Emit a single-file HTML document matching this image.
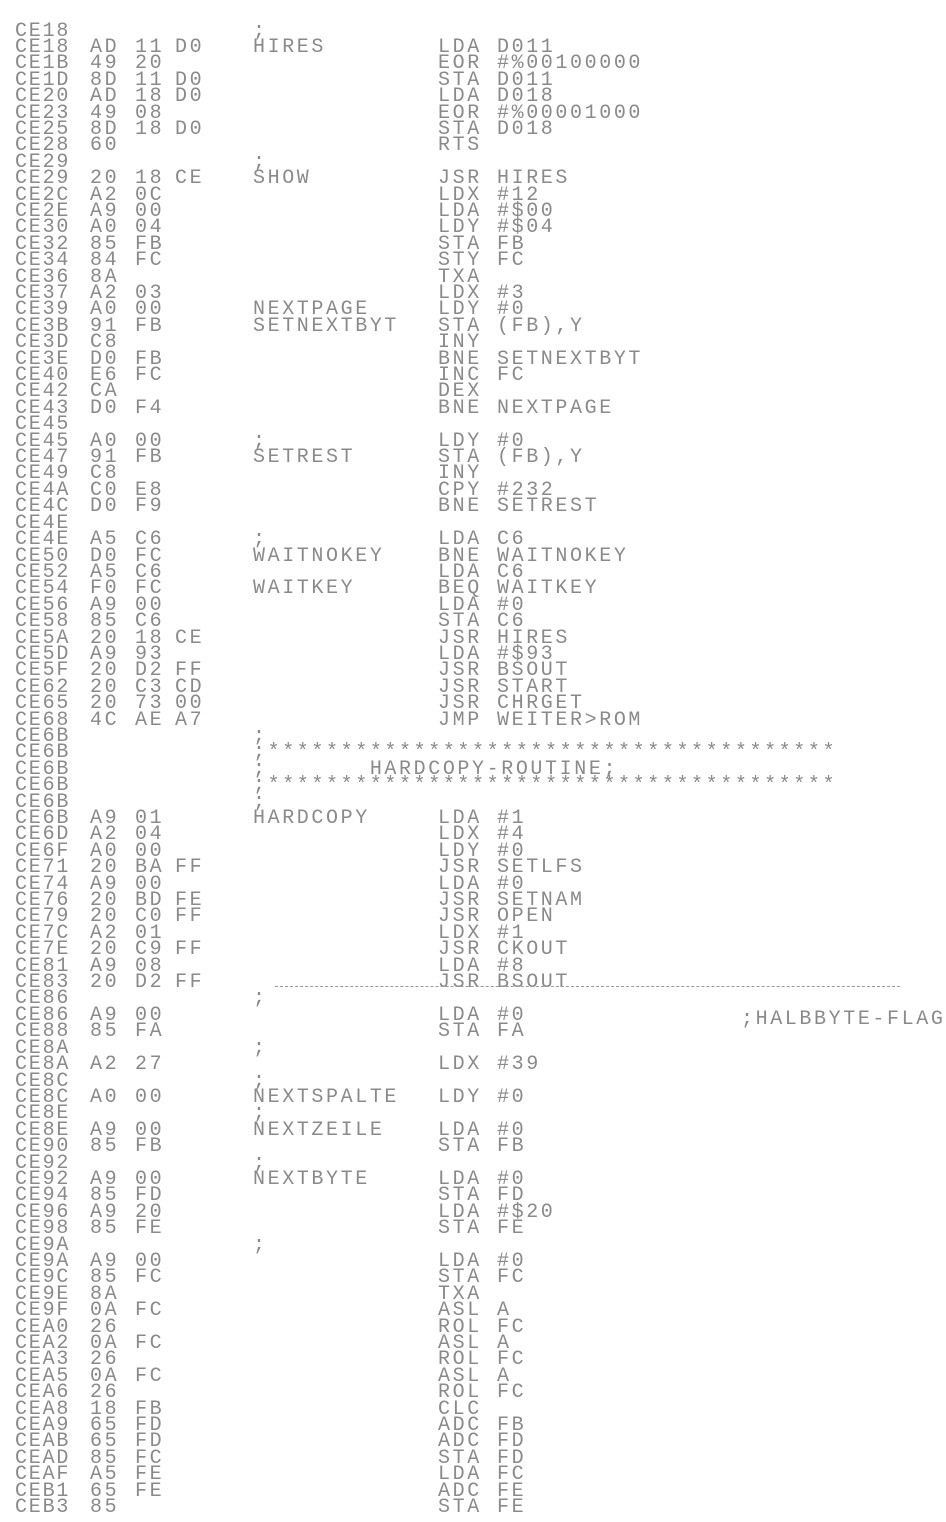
<!DOCTYPE html>
<html><head><meta charset="utf-8"><style>
html,body{margin:0;padding:0;background:#fff;width:946px;height:1522px;overflow:hidden;position:relative}
pre{position:absolute;top:23.5px;margin:0;font-family:"Liberation Mono",monospace;font-size:20px;line-height:16.4px;color:#8a8a8a;letter-spacing:2.6px;white-space:pre}
#addr{left:15px;letter-spacing:1.8px}
#b1{left:90px}#b2{left:135px}#b3{left:175px}
#lab{left:253px}#mn{left:438px}#op{left:497px}
.c{position:absolute;font-family:"Liberation Mono",monospace;font-size:20px;color:#8a8a8a;letter-spacing:2.6px;white-space:pre}
.dash{position:absolute;left:275px;top:986px;width:625px;border-top:1px dashed #9a9a9a}
</style></head><body>
<pre id="addr">CE18
CE18
CE1B
CE1D
CE20
CE23
CE25
CE28
CE29
CE29
CE2C
CE2E
CE30
CE32
CE34
CE36
CE37
CE39
CE3B
CE3D
CE3E
CE40
CE42
CE43
CE45
CE45
CE47
CE49
CE4A
CE4C
CE4E
CE4E
CE50
CE52
CE54
CE56
CE58
CE5A
CE5D
CE5F
CE62
CE65
CE68
CE6B
CE6B
CE6B
CE6B
CE6B
CE6B
CE6D
CE6F
CE71
CE74
CE76
CE79
CE7C
CE7E
CE81
CE83
CE86
CE86
CE88
CE8A
CE8A
CE8C
CE8C
CE8E
CE8E
CE90
CE92
CE92
CE94
CE96
CE98
CE9A
CE9A
CE9C
CE9E
CE9F
CEA0
CEA2
CEA3
CEA5
CEA6
CEA8
CEA9
CEAB
CEAD
CEAF
CEB1
CEB3</pre>
<pre id="b1">

AD
49
8D
AD
49
8D
60

20
A2
A9
A0
85
84
8A
A2
A0
91
C8
D0
E6
CA
D0

A0
91
C8
C0
D0

A5
D0
A5
F0
A9
85
20
A9
20
20
20
4C





A9
A2
A0
20
A9
20
20
A2
20
A9
20

A9
85

A2

A0

A9
85

A9
85
A9
85

A9
85
8A
0A
26
0A
26
0A
26
18
65
65
85
A5
65
85</pre>
<pre id="b2">

11
20
11
18
08
18


18
0C
00
04
FB
FC

03
00
FB

FB
FC

F4

00
FB

E8
F9

C6
FC
C6
FC
00
C6
18
93
D2
C3
73
AE





01
04
00
BA
00
BD
C0
01
C9
08
D2

00
FA

27

00

00
FB

00
FD
20
FE

00
FC

FC

FC

FC

FB
FD
FD
FC
FE
FE</pre>
<pre id="b3">

D0

D0
D0

D0


CE



























CE

FF
CD
00
A7








FF

FE
FF

FF

FF</pre>
<pre id="lab">;
HIRES






;
SHOW







NEXTPAGE
SETNEXTBYT






;
SETREST




;
WAITNOKEY

WAITKEY








;
;***************************************
;       HARDCOPY-ROUTINE;
;***************************************
;
HARDCOPY










;


;

;
NEXTSPALTE
;
NEXTZEILE

;
NEXTBYTE



;</pre>
<pre id="mn">

LDA
EOR
STA
LDA
EOR
STA
RTS

JSR
LDX
LDA
LDY
STA
STY
TXA
LDX
LDY
STA
INY
BNE
INC
DEX
BNE

LDY
STA
INY
CPY
BNE

LDA
BNE
LDA
BEQ
LDA
STA
JSR
LDA
JSR
JSR
JSR
JMP





LDA
LDX
LDY
JSR
LDA
JSR
JSR
LDX
JSR
LDA
JSR

LDA
STA

LDX

LDY

LDA
STA

LDA
STA
LDA
STA

LDA
STA
TXA
ASL
ROL
ASL
ROL
ASL
ROL
CLC
ADC
ADC
STA
LDA
ADC
STA</pre>
<pre id="op">

D011
#%00100000
D011
D018
#%00001000
D018


HIRES
#12
#$00
#$04
FB
FC

#3
#0
(FB),Y

SETNEXTBYT
FC

NEXTPAGE

#0
(FB),Y

#232
SETREST

C6
WAITNOKEY
C6
WAITKEY
#0
C6
HIRES
#$93
BSOUT
START
CHRGET
WEITER&gt;ROM





#1
#4
#0
SETLFS
#0
SETNAM
OPEN
#1
CKOUT
#8
BSOUT

#0
FA

#39

#0

#0
FB

#0
FD
#$20
FE

#0
FC

A
FC
A
FC
A
FC

FB
FD
FD
FC
FE
FE</pre>
<div class="c" style="left:741px;top:1008px">;HALBBYTE-FLAG</div>
<div class="dash"></div>
</body></html>
